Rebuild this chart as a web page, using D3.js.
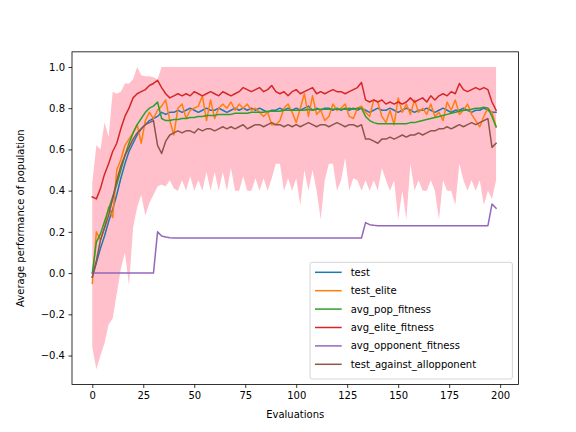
<!DOCTYPE html>
<html>
<head>
<meta charset="utf-8">
<script src="https://cdn.jsdelivr.net/npm/d3@7"></script>
<style>
  body { margin: 0; background: #fff; }
  svg { font-family: "DejaVu Sans", sans-serif; }
</style>
</head>
<body>
<svg id="chart" width="576" height="432"></svg>
<script>
// evaluations are every other step, 0..198
var evaluations = d3.range(0, 200, 2);

var test = [
  -0.02, 0.05, 0.12, 0.18, 0.25, 0.31, 0.38, 0.46, 0.53, 0.59,
  0.63, 0.67, 0.70, 0.72, 0.74, 0.75, 0.76, 0.78, 0.77, 0.78,
  0.78, 0.79, 0.78, 0.79, 0.80, 0.79, 0.78, 0.79, 0.80, 0.79,
  0.79, 0.80, 0.79, 0.78, 0.79, 0.80, 0.79, 0.80, 0.79, 0.80,
  0.79, 0.80, 0.79, 0.78, 0.79, 0.79, 0.80, 0.79, 0.80, 0.79,
  0.80, 0.79, 0.80, 0.81, 0.79, 0.80, 0.79, 0.80, 0.80, 0.79,
  0.80, 0.79, 0.80, 0.79, 0.80, 0.79, 0.80, 0.79, 0.78, 0.79,
  0.80, 0.79, 0.79, 0.80, 0.79, 0.78, 0.79, 0.80, 0.79, 0.78,
  0.79, 0.79, 0.80, 0.79, 0.78, 0.79, 0.80, 0.79, 0.78, 0.79,
  0.79, 0.80, 0.79, 0.78, 0.79, 0.79, 0.80, 0.79, 0.78, 0.78
];

var testElite = [
  -0.05, 0.20, 0.16, 0.22, 0.32, 0.27, 0.50, 0.55, 0.62, 0.65,
  0.68, 0.72, 0.63, 0.74, 0.78, 0.75, 0.79, 0.81, 0.84, 0.74,
  0.67, 0.80, 0.82, 0.75, 0.79, 0.80, 0.81, 0.86, 0.74, 0.84,
  0.75, 0.80, 0.82, 0.80, 0.83, 0.79, 0.82, 0.80, 0.82, 0.79,
  0.80, 0.78, 0.76, 0.78, 0.72, 0.72, 0.74, 0.80, 0.82, 0.78,
  0.73, 0.80, 0.87, 0.76, 0.86, 0.77, 0.79, 0.74, 0.76, 0.82,
  0.79, 0.80, 0.82, 0.76, 0.75, 0.80, 0.81, 0.78, 0.76, 0.84,
  0.83, 0.76, 0.73, 0.79, 0.72, 0.85, 0.78, 0.82, 0.77, 0.84,
  0.78, 0.80, 0.77, 0.82, 0.76, 0.78, 0.74, 0.83, 0.79, 0.84,
  0.77, 0.79, 0.82, 0.77, 0.74, 0.71, 0.76, 0.80, 0.78, 0.71
];

var avgPopFitness = [
  0.00, 0.15, 0.19, 0.25, 0.31, 0.37, 0.43, 0.50, 0.57, 0.63,
  0.68, 0.72, 0.75, 0.78, 0.80, 0.81, 0.83, 0.75, 0.74, 0.74,
  0.745, 0.745, 0.75, 0.75, 0.755, 0.755, 0.76, 0.76, 0.765, 0.765,
  0.765, 0.77, 0.77, 0.77, 0.77, 0.775, 0.775, 0.775, 0.775, 0.78,
  0.78, 0.78, 0.78, 0.785, 0.785, 0.785, 0.785, 0.79, 0.79, 0.79,
  0.79, 0.79, 0.79, 0.795, 0.79, 0.795, 0.795, 0.795, 0.795, 0.795,
  0.795, 0.795, 0.795, 0.80, 0.795, 0.80, 0.80, 0.76, 0.74, 0.73,
  0.725, 0.725, 0.725, 0.725, 0.725, 0.725, 0.725, 0.725, 0.73, 0.73,
  0.735, 0.74, 0.745, 0.75, 0.755, 0.76, 0.765, 0.77, 0.775, 0.78,
  0.785, 0.79, 0.79, 0.795, 0.80, 0.80, 0.805, 0.80, 0.76, 0.71
];

var avgEliteFitness = [
  0.37, 0.36, 0.41, 0.48, 0.53, 0.59, 0.63, 0.70, 0.76, 0.80,
  0.85, 0.87, 0.88, 0.89, 0.91, 0.92, 0.935, 0.90, 0.87, 0.85,
  0.86, 0.87, 0.86, 0.87, 0.86, 0.88, 0.87, 0.86, 0.87, 0.88,
  0.87, 0.86, 0.88, 0.87, 0.86, 0.87, 0.88, 0.90, 0.89, 0.88,
  0.89, 0.90, 0.88, 0.89, 0.91, 0.88, 0.87, 0.88, 0.86, 0.88,
  0.89, 0.87, 0.88, 0.89, 0.90, 0.87, 0.88, 0.87, 0.88, 0.89,
  0.88, 0.88, 0.87, 0.88, 0.89, 0.90, 0.925, 0.84, 0.83, 0.84,
  0.83, 0.84, 0.82, 0.83, 0.82, 0.83, 0.82, 0.83, 0.85, 0.83,
  0.84, 0.85, 0.83, 0.86, 0.84, 0.86, 0.87, 0.86, 0.88, 0.87,
  0.92, 0.89, 0.88, 0.89, 0.90, 0.89, 0.90, 0.89, 0.83, 0.79
];

var avgOpponentFitness = [
  0, 0, 0, 0, 0, 0, 0, 0, 0, 0,
  0, 0, 0, 0, 0, 0, 0.20, 0.18, 0.175, 0.172,
  0.17, 0.17, 0.17, 0.17, 0.17, 0.17, 0.17, 0.17, 0.17, 0.17,
  0.17, 0.17, 0.17, 0.17, 0.17, 0.17, 0.17, 0.17, 0.17, 0.17,
  0.17, 0.17, 0.17, 0.17, 0.17, 0.17, 0.17, 0.17, 0.17, 0.17,
  0.17, 0.17, 0.17, 0.17, 0.17, 0.17, 0.17, 0.17, 0.17, 0.17,
  0.17, 0.17, 0.17, 0.17, 0.17, 0.17, 0.17, 0.245, 0.235, 0.232,
  0.23, 0.23, 0.23, 0.23, 0.23, 0.23, 0.23, 0.23, 0.23, 0.23,
  0.23, 0.23, 0.23, 0.23, 0.23, 0.23, 0.23, 0.23, 0.23, 0.23,
  0.23, 0.23, 0.23, 0.23, 0.23, 0.23, 0.23, 0.23, 0.335, 0.315
];

var testAgainstAll = [
  -0.02, 0.06, 0.16, 0.22, 0.28, 0.36, 0.45, 0.52, 0.57, 0.61,
  0.65, 0.68, 0.70, 0.72, 0.73, 0.74, 0.62, 0.58, 0.64, 0.67,
  0.68, 0.69, 0.68, 0.69, 0.69, 0.68, 0.70, 0.69, 0.70, 0.70,
  0.69, 0.70, 0.71, 0.70, 0.71, 0.70, 0.71, 0.72, 0.70, 0.71,
  0.72, 0.72, 0.71, 0.72, 0.73, 0.72, 0.72, 0.71, 0.72, 0.71,
  0.72, 0.71, 0.72, 0.73, 0.72, 0.71, 0.72, 0.72, 0.71, 0.72,
  0.73, 0.72, 0.71, 0.72, 0.72, 0.71, 0.72, 0.65, 0.65, 0.64,
  0.63, 0.65, 0.65, 0.66, 0.65, 0.66, 0.67, 0.66, 0.67, 0.67,
  0.68, 0.67, 0.68, 0.69, 0.69, 0.70, 0.70, 0.71, 0.70, 0.71,
  0.72, 0.71, 0.72, 0.73, 0.72, 0.73, 0.74, 0.75, 0.61, 0.63
];

// pink band: spread of the population
var bandUpper = [
  0.44, 0.62, 0.60, 0.73, 0.66, 0.88, 0.87, 0.88, 0.92, 0.92,
  0.94, 1.0, 0.96, 0.955, 0.955, 0.95, 0.94, 1.0, 1.0, 1.0,
  1.0, 1.0, 1.0, 1.0, 1.0, 1.0, 1.0, 1.0, 1.0, 1.0,
  1.0, 1.0, 1.0, 1.0, 1.0, 1.0, 1.0, 1.0, 1.0, 1.0,
  1.0, 1.0, 1.0, 1.0, 1.0, 1.0, 1.0, 1.0, 1.0, 1.0,
  1.0, 1.0, 1.0, 1.0, 1.0, 1.0, 1.0, 1.0, 1.0, 1.0,
  1.0, 1.0, 1.0, 1.0, 1.0, 1.0, 1.0, 1.0, 1.0, 1.0,
  1.0, 1.0, 1.0, 1.0, 1.0, 1.0, 1.0, 1.0, 1.0, 1.0,
  1.0, 1.0, 1.0, 1.0, 1.0, 1.0, 1.0, 1.0, 1.0, 1.0,
  1.0, 1.0, 1.0, 1.0, 1.0, 1.0, 1.0, 1.0, 1.0, 1.0
];

var bandLower = [
  -0.36, -0.467, -0.40, -0.34, -0.25, -0.22, -0.10, 0.02, 0.10, -0.06,
  0.22, 0.32, 0.38, 0.28, 0.34, 0.38, 0.42, 0.43, 0.42, 0.45,
  0.41, 0.40, 0.45, 0.40, 0.47, 0.40, 0.45, 0.40, 0.49, 0.40,
  0.49, 0.40, 0.49, 0.40, 0.51, 0.40, 0.40, 0.47, 0.40, 0.40,
  0.46, 0.40, 0.46, 0.40, 0.46, 0.53, 0.53, 0.40, 0.46, 0.40,
  0.46, 0.33, 0.50, 0.40, 0.50, 0.40, 0.26, 0.45, 0.53, 0.53,
  0.40, 0.45, 0.56, 0.40, 0.46, 0.45, 0.40, 0.45, 0.40, 0.45,
  0.40, 0.51, 0.45, 0.40, 0.45, 0.26, 0.40, 0.26, 0.53, 0.40,
  0.45, 0.40, 0.40, 0.45, 0.40, 0.26, 0.45, 0.40, 0.40, 0.33,
  0.53, 0.45, 0.40, 0.45, 0.40, 0.45, 0.33, 0.40, 0.36, 0.45
];

var seriesNames = ["test", "test_elite", "avg_pop_fitness", "avg_elite_fitness",
                   "avg_opponent_fitness", "test_against_allopponent"];
var seriesValues = [test, testElite, avgPopFitness, avgEliteFitness, avgOpponentFitness, testAgainstAll];
var seriesColors = ["#1f77b4", "#ff7f0e", "#2ca02c", "#d62728", "#9467bd", "#8c564b"];

var xTicks = [0, 25, 50, 75, 100, 125, 150, 175, 200];
var yTicks = [-0.4, -0.2, 0.0, 0.2, 0.4, 0.6, 0.8, 1.0];

var svg = d3.select("#chart");
var plotLeft = 72, plotRight = 518.4, plotTop = 51.84, plotBottom = 384.48;

var x = d3.scaleLinear().domain([-9.95, 208.95]).range([plotLeft, plotRight]);
var y = d3.scaleLinear().domain([-0.5404, 1.0734]).range([plotBottom, plotTop]);

// band
var area = d3.area()
    .x(function(d, i) { return x(evaluations[i]); })
    .y0(function(d, i) { return y(bandLower[i]); })
    .y1(function(d) { return y(d); });

svg.append("path")
    .datum(bandUpper)
    .attr("d", area)
    .attr("fill", "pink");

var line = d3.line()
    .x(function(d, i) { return x(evaluations[i]); })
    .y(function(d) { return y(d); });

seriesValues.forEach(function(vals, k) {
    svg.append("path")
        .datum(vals)
        .attr("d", line)
        .attr("fill", "none")
        .attr("stroke", seriesColors[k])
        .attr("stroke-width", 1.5)
        .attr("stroke-linejoin", "round")
        .attr("stroke-linecap", "square");
});

// axes
var xAxis = svg.append("g")
    .attr("transform", "translate(0," + plotBottom + ")")
    .call(d3.axisBottom(x).tickValues(xTicks).tickSize(3.5).tickPadding(3.5).tickFormat(d3.format("d")));
var yAxis = svg.append("g")
    .attr("transform", "translate(" + plotLeft + ",0)")
    .call(d3.axisLeft(y).tickValues(yTicks).tickSize(3.5).tickPadding(3.5)
        .tickFormat(function(d) { return d3.format(".1f")(d).replace("-", "\u2212"); }));

[xAxis, yAxis].forEach(function(g) {
    g.select(".domain").remove();
    g.selectAll(".tick line").attr("stroke", "#000").attr("stroke-width", 0.8);
    g.selectAll(".tick text").attr("fill", "#000").style("font-size", "10px")
        .style("font-family", "DejaVu Sans, sans-serif");
});

svg.append("rect")
    .attr("x", plotLeft).attr("y", plotTop)
    .attr("width", plotRight - plotLeft).attr("height", plotBottom - plotTop)
    .attr("fill", "none").attr("stroke", "#000").attr("stroke-width", 0.8);

svg.append("text")
    .attr("x", (plotLeft + plotRight) / 2).attr("y", 418)
    .attr("text-anchor", "middle")
    .style("font-size", "10px")
    .text("Evaluations");

svg.append("text")
    .attr("transform", "translate(24," + (plotTop + plotBottom) / 2 + ") rotate(-90)")
    .attr("text-anchor", "middle")
    .style("font-size", "10px")
    .text("Average performance of population");

// legend
var legend = svg.append("g");
legend.append("rect")
    .attr("x", 310).attr("y", 262.3)
    .attr("width", 202.4).attr("height", 116.7)
    .attr("rx", 2).attr("ry", 2)
    .attr("fill", "#fff").attr("fill-opacity", 0.8)
    .attr("stroke", "#ccc").attr("stroke-width", 0.8);

seriesNames.forEach(function(name, k) {
    var ly = 272.3 + k * 18.4;
    legend.append("line")
        .attr("x1", 315).attr("x2", 341.7)
        .attr("y1", ly).attr("y2", ly)
        .attr("stroke", seriesColors[k]).attr("stroke-width", 1.5);
    legend.append("text")
        .attr("x", 350.7).attr("y", ly + 3.5)
        .style("font-size", "10px")
        .text(name);
});
</script>
</body>
</html>
